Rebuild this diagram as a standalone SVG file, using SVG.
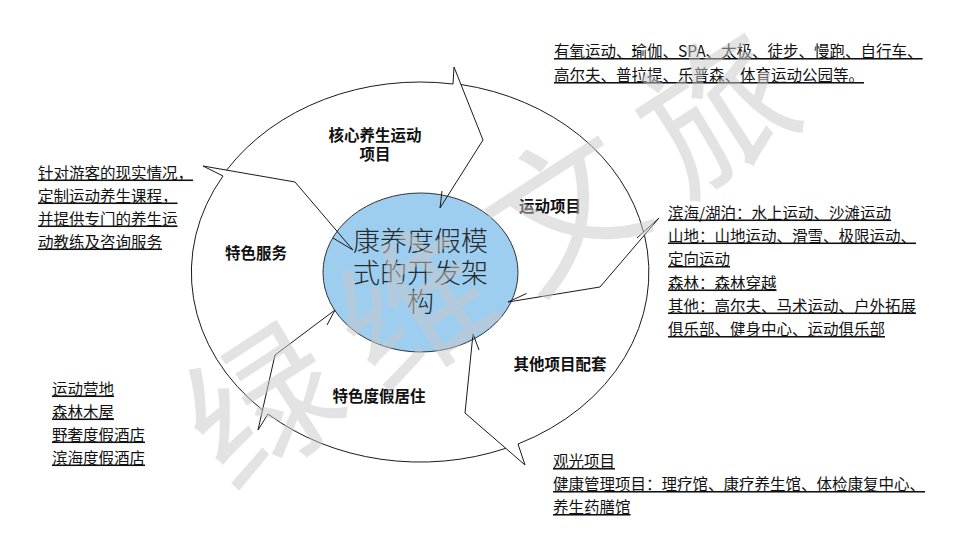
<svg xmlns="http://www.w3.org/2000/svg" width="960" height="540" viewBox="0 0 960 540">
<style>
.ln{fill:none;stroke:#1a1a1a;stroke-width:1;stroke-linejoin:miter}
.lb{font-family:"Noto Sans CJK SC","Liberation Sans",sans-serif;font-size:15.5px;font-weight:bold;fill:#111;text-anchor:middle}
.tx{font-family:"Noto Sans CJK SC","Liberation Sans",sans-serif;font-size:15.5px;fill:#111;text-decoration:underline}
.ct{font-family:"Noto Sans CJK SC","Liberation Sans",sans-serif;font-size:27px;font-weight:300;fill:#2a2a2a;text-anchor:middle}
.wm{font-family:"Noto Sans CJK SC",sans-serif;font-size:150px;fill:#c8c8c8;opacity:0.5;text-anchor:middle;letter-spacing:30px}
</style>
<rect width="960" height="540" fill="#ffffff"/>
<g id="center">
<ellipse cx="420.5" cy="272.5" rx="97.5" ry="79.5" fill="#9DCEF0" stroke="#333" stroke-width="1"/>
<text class="ct" x="420.5" y="251">康养度假模</text>
<text class="ct" x="420.5" y="283">式的开发架</text>
<text class="ct" x="420.5" y="312">构</text>
</g>
<g id="connectors">
<path id="seg-core" class="ln" d="M226.6 170.2 A229 190 0 0 1 453 84 L454 67 L483 140 L440 208 L442 191"/>
<path id="seg-sport" class="ln" d="M461 84.5 A229 190 0 0 1 643.5 232 M637 238 L659 218 L600 287 L508 302 L526.5 293.5"/>
<path id="seg-other" class="ln" d="M644.5 235.3 A229 190 0 0 1 518 444 L525 465 L465 413 L473 334 L479 350"/>
<path id="seg-stay" class="ln" d="M505.8 448.3 A229 190 0 0 1 268 414 L258 430 L275 355 L335 310 L327 325"/>
<path id="seg-service" class="ln" d="M262.5 410 A229 190 0 0 1 223 176 L203 166 L295 182 L353 250 L333 238"/>
</g>
<g id="node-core">
<text class="lb" x="375" y="141">核心养生运动</text>
<text class="lb" x="375" y="160">项目</text>
</g>
<g id="node-sport">
<text class="lb" x="550" y="212">运动项目</text>
</g>
<g id="node-service">
<text class="lb" x="256" y="259">特色服务</text>
</g>
<g id="node-other">
<text class="lb" x="560" y="370">其他项目配套</text>
</g>
<g id="node-stay">
<text class="lb" x="379" y="402">特色度假居住</text>
</g>
<g id="note-core">
<text class="tx" x="554" y="57">有氧运动、瑜伽、SPA、太极、徒步、慢跑、自行车、</text>
<text class="tx" x="554" y="81">高尔夫、普拉提、乐普森、体育运动公园等。</text>
</g>
<g id="note-service">
<text class="tx" x="38" y="178.5">针对游客的现实情况，</text>
<text class="tx" x="38" y="201.5">定制运动养生课程，</text>
<text class="tx" x="38" y="224.5">并提供专门的养生运</text>
<text class="tx" x="38" y="247.5">动教练及咨询服务</text>
</g>
<g id="note-sport">
<text class="tx" x="668" y="218.5">滨海/湖泊：水上运动、沙滩运动</text>
<text class="tx" x="668" y="241.5">山地：山地运动、滑雪、极限运动、</text>
<text class="tx" x="668" y="265">定向运动</text>
<text class="tx" x="668" y="288.5">森林：森林穿越</text>
<text class="tx" x="668" y="311.5">其他：高尔夫、马术运动、户外拓展</text>
<text class="tx" x="668" y="335">俱乐部、健身中心、运动俱乐部</text>
</g>
<g id="note-stay">
<text class="tx" x="52" y="394.5">运动营地</text>
<text class="tx" x="52" y="417.5">森林木屋</text>
<text class="tx" x="52" y="440.5">野奢度假酒店</text>
<text class="tx" x="52" y="463.5">滨海度假酒店</text>
</g>
<g id="note-other">
<text class="tx" x="553" y="467">观光项目</text>
<text class="tx" x="553" y="490">健康管理项目：理疗馆、康疗养生馆、体检康复中心、</text>
<text class="tx" x="553" y="513">养生药膳馆</text>
</g>
<g id="watermark">
<text class="wm" x="505" y="305" transform="rotate(-33 505 255)">绿维文旅</text>
</g>
</svg>
